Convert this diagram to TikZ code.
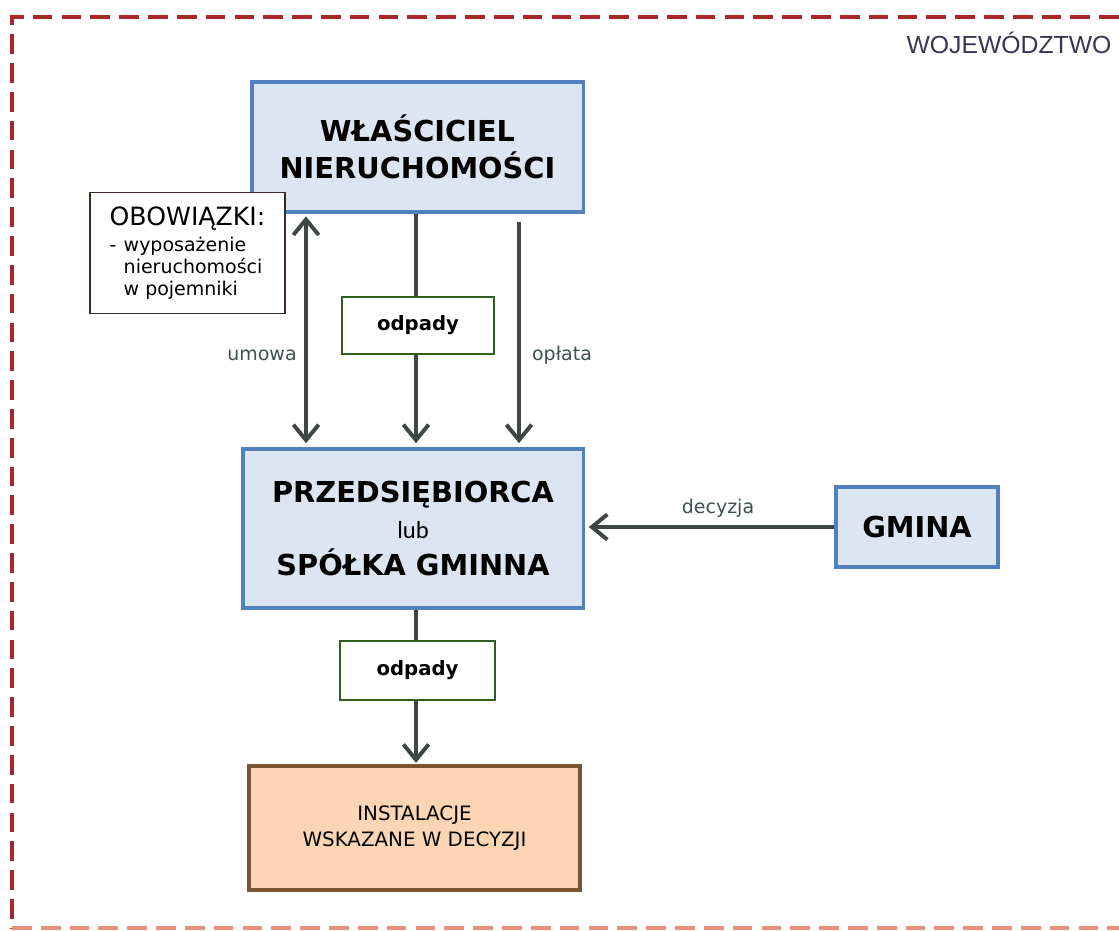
\documentclass[tikz,border=0pt]{standalone}
\usepackage{fontspec}
\setmainfont{DejaVu Sans}
\newfontfamily\arialfont{Liberation Sans}
\newfontfamily\calfont{Carlito}
\usetikzlibrary{arrows.meta}

\definecolor{boxblue}{HTML}{DCE6F2}
\definecolor{edgeblue}{HTML}{4F81BD}
\definecolor{wastegreen}{HTML}{2F5F1F}
\definecolor{instfill}{HTML}{FCD5B4}
\definecolor{instedge}{HTML}{7A5530}
\definecolor{dutyedge}{HTML}{3A2A22}
\definecolor{arrowgray}{HTML}{404545}
\definecolor{labelgray}{HTML}{3F5050}
\definecolor{borderred}{HTML}{A8282A}
\definecolor{borderpink}{HTML}{E8907C}
\definecolor{regiontext}{HTML}{3A3550}

\begin{document}
\begin{tikzpicture}[x=0.025cm, y=-0.025cm]
	\tikzset{
		main/.style={draw=edgeblue, fill=boxblue, line width=2.2pt, align=center, inner sep=0pt,
			font=\bfseries\fontsize{20.5}{26}\selectfont},
		waste/.style={draw=wastegreen, fill=white, line width=1.8pt, inner sep=0pt,
			font=\bfseries\fontsize{14}{16}\selectfont},
		flow/.style={draw=arrowgray, line width=2.8pt,
			-{Straight Barb[length=11pt, width=18pt, line width=2.8pt]}},
		both/.style={flow, {Straight Barb[length=11pt, width=18pt, line width=2.8pt]}-{Straight Barb[length=11pt, width=18pt, line width=2.8pt]}},
		plain/.style={draw=arrowgray, line width=2.8pt},
		lbl/.style={text=labelgray, font=\fontsize{13.5}{16}\selectfont}
	}
	\useasboundingbox (0,0) rectangle (1119,931);

	% region border
	\draw[borderred, line width=3.5pt, dash pattern=on 14pt off 6.5pt] (1119,17) -- (12,17) -- (12,928);
	\draw[borderpink, line width=3.5pt, dash pattern=on 14pt off 6.5pt] (12,928) -- (1119,928);
	\node[text=regiontext, font=\arialfont\fontsize{17.6}{20}\selectfont] (region) at (1009,43) {WOJEWÓDZTWO};

	% boxes
	\node[main, minimum width=8.275cm, minimum height=3.25cm] (owner) at (417.5,147) {WŁAŚCICIEL\\NIERUCHOMOŚCI};
	\node[draw=dutyedge, fill=white, line width=1.3pt, minimum width=4.875cm, minimum height=3.025cm,
		align=left, inner sep=0pt, font=\fontsize{13.5}{15.6}\selectfont] (duties) at (187.5,253) {
		{\fontsize{17.9}{20}\selectfont OBOWIĄZKI:}\\[3pt]
		\makebox[10pt][l]{-}wyposażenie\\
		\hspace*{10pt}nieruchomości\\
		\hspace*{10pt}w pojemniki};
	\node[waste, minimum width=3.8cm, minimum height=1.425cm] (waste1) at (418,325.5) {odpady};
	\node[main, minimum width=8.5cm, minimum height=3.975cm] (firm) at (413,528.5)
		{PRZEDSIĘBIORCA\\{\calfont\mdseries\fontsize{17.5}{18}\selectfont lub}\\SPÓŁKA GMINNA};
	\node[main, minimum width=4.05cm, minimum height=2cm] (gmina) at (917,527) {GMINA};
	\node[waste, minimum width=3.875cm, minimum height=1.475cm] (waste2) at (417.5,670.5) {odpady};
	\node[draw=instedge, fill=instfill, line width=2.4pt, minimum width=8.275cm, minimum height=3.1cm,
		align=center, inner sep=0pt, font=\fontsize{14.1}{18.5}\selectfont] (plant) at (414.5,828)
		{INSTALACJE\\WSKAZANE W DECYZJI};

	% connectors
	\coordinate (ux) at (306,0);
	\coordinate (wx) at (416,0);
	\coordinate (px) at (519,0);
	\draw[both, shorten <=2pt, shorten >=3pt] (owner.south -| ux) -- (firm.north -| ux);
	\draw[plain] (owner.south -| wx) -- (waste1.north -| wx);
	\draw[flow, shorten >=3pt] (waste1.south -| wx) -- (firm.north -| wx);
	\draw[flow, shorten <=6pt, shorten >=3pt] (owner.south -| px) -- (firm.north -| px);
	\draw[flow, shorten >=3pt] (gmina.west) -- (firm.east |- gmina.west);
	\draw[plain] (firm.south -| wx) -- (waste2.north -| wx);
	\draw[flow, shorten >=1pt] (waste2.south -| wx) -- (plant.north -| wx);

	\node[lbl] (contract) at (262,355) {umowa};
	\node[lbl] (fee) at (562,355) {opłata};
	\node[lbl] (decision) at (718,508) {decyzja};
\end{tikzpicture}
\end{document}
